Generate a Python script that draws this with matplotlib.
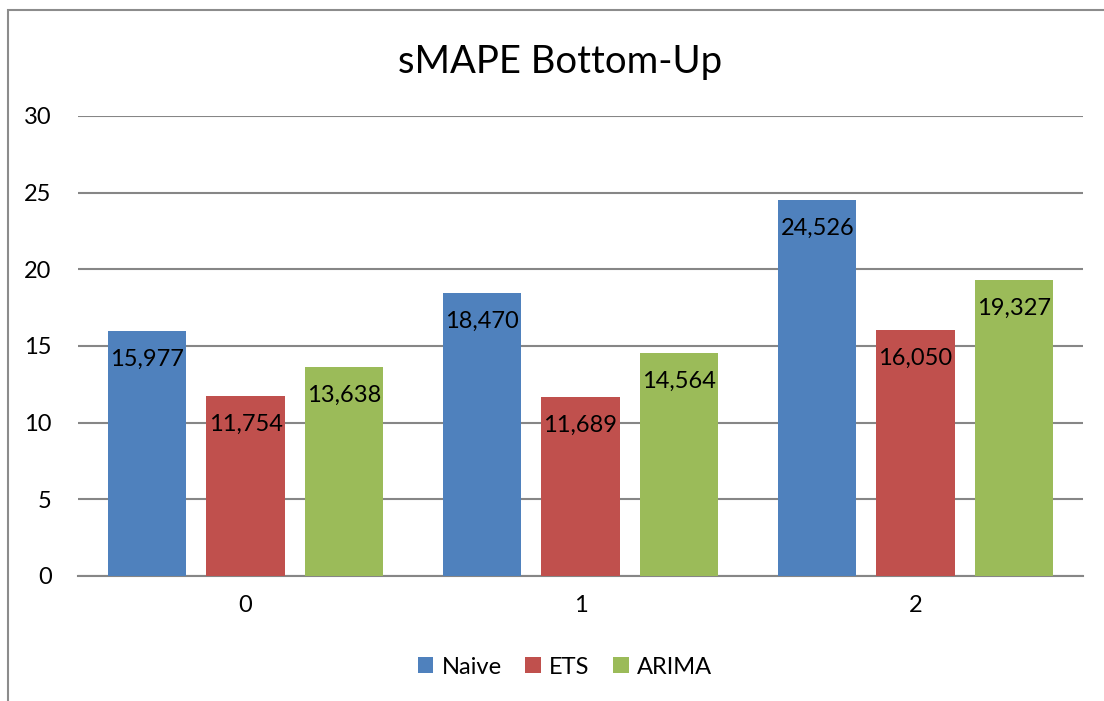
import matplotlib

matplotlib.use("Agg")

import matplotlib.pyplot as plt
import numpy as np
from matplotlib.patches import Rectangle

plt.rcParams["font.family"] = ["Lato", "DejaVu Sans"]

categories = ["0", "1", "2"]
series_names = ["Naive", "ETS", "ARIMA"]
naive = [15.977, 18.470, 24.526]
ets = [11.754, 11.689, 16.050]
arima = [13.638, 14.564, 19.327]
colors = ["#4f81bd", "#c0504d", "#9bbb59"]


def fmt(v):
    # comma as decimal separator, as in the source
    return f"{v:.3f}".replace(".", ",")


fig = plt.figure(figsize=(11.04, 7.01), dpi=100)
ax = fig.add_axes([78 / 1104, 1 - 576 / 701, 1005 / 1104, 460 / 701])

# chart border, clipped off at right and bottom like the screenshot
fig.patches.append(Rectangle((8 / 1104, -0.05), 1.2, 1 - 10 / 701 + 0.05,
                             transform=fig.transFigure, fill=False,
                             edgecolor="#8c8c8c", linewidth=1.5))

x = np.arange(len(categories))
width = 0.233
step = 0.293
for i, (name, vals) in enumerate(zip(series_names, [naive, ets, arima])):
    pos = x + (i - 1) * step
    ax.bar(pos, vals, width, color=colors[i], label=name, zorder=3)
    for px, v in zip(pos, vals):
        ax.text(px, v - 1.85, fmt(v), ha="center", va="center", fontsize=17,
                color="black", zorder=4)

ax.set_xlim(-0.5, 2.5)
ax.set_ylim(0, 30)
ax.set_yticks(np.arange(0, 31, 5))
ax.set_xticks(x)
ax.set_xticklabels(categories)
ax.grid(axis="y", color="#868686", linewidth=1.5, zorder=0)
ax.set_axisbelow(True)
for side in ["left", "right", "top"]:
    ax.spines[side].set_visible(False)
ax.spines["bottom"].set_color("#868686")
ax.spines["bottom"].set_linewidth(1.5)
ax.tick_params(axis="both", length=0, labelsize=17)
ax.tick_params(axis="y", pad=19)
ax.tick_params(axis="x", pad=14)

fig.text(560 / 1104, 1 - 62 / 701, "sMAPE Bottom-Up", ha="center", va="center",
         fontsize=27.5)

fig.legend(loc="center", bbox_to_anchor=(565 / 1104, 1 - 667 / 701), ncol=3,
           frameon=False, fontsize=17, handlelength=0.65, handleheight=0.65,
           handletextpad=0.35, columnspacing=1.0)

fig.savefig("out.png", dpi=100)
